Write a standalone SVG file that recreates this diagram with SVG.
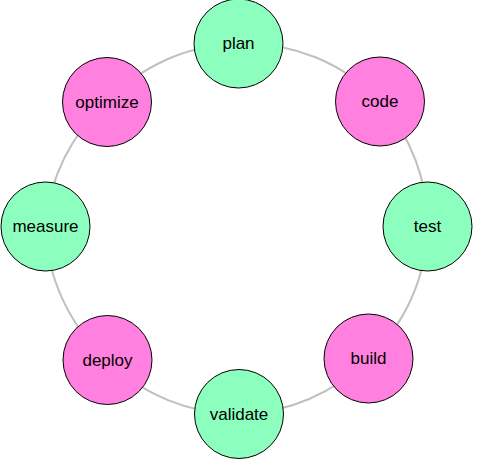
<svg xmlns="http://www.w3.org/2000/svg" width="477" height="459" viewBox="0 0 477 459">
<style>
.edge{fill:none;stroke:#c0c0c0;stroke-width:2}
.g{fill:#8cffbe;stroke:#000;stroke-width:1}
.p{fill:#ff80de;stroke:#000;stroke-width:1}
text{font-family:"Liberation Sans",Arial,sans-serif;font-size:17px;fill:#000;text-anchor:middle;dominant-baseline:central}
</style>
<rect width="477" height="459" fill="#fff"/>
<g id="connectors">
<path class="edge" d="M238.5,43.5 A186,186 0 0 1 380,101.5"/>
<path class="edge" d="M380,101.5 A186,186 0 0 1 427.5,226.5"/>
<path class="edge" d="M427.5,226.5 A186,186 0 0 1 368.5,358.5"/>
<path class="edge" d="M368.5,358.5 A186,186 0 0 1 239,414"/>
<path class="edge" d="M239,414 A186,186 0 0 1 107.5,360"/>
<path class="edge" d="M107.5,360 A186,186 0 0 1 45.5,226.5"/>
<path class="edge" d="M45.5,226.5 A186,186 0 0 1 107,102"/>
<path class="edge" d="M107,102 A186,186 0 0 1 238.5,43.5"/>
</g>
<g id="plan"><circle class="g" cx="238.5" cy="43.5" r="44.5"/><text x="238.5" y="43.5">plan</text></g>
<g id="code"><circle class="p" cx="380" cy="101.5" r="44.5"/><text x="380" y="101.5">code</text></g>
<g id="test"><circle class="g" cx="427.5" cy="226.5" r="44.5"/><text x="427.5" y="226.5">test</text></g>
<g id="build"><circle class="p" cx="368.5" cy="358.5" r="44.5"/><text x="368.5" y="358.5">build</text></g>
<g id="validate"><circle class="g" cx="239" cy="414" r="44.5"/><text x="239" y="414">validate</text></g>
<g id="deploy"><circle class="p" cx="107.5" cy="360" r="44.5"/><text x="107.5" y="360">deploy</text></g>
<g id="measure"><circle class="g" cx="45.5" cy="226.5" r="44.5"/><text x="45.5" y="226.5">measure</text></g>
<g id="optimize"><circle class="p" cx="107" cy="102" r="44.5"/><text x="107" y="102">optimize</text></g>
</svg>
